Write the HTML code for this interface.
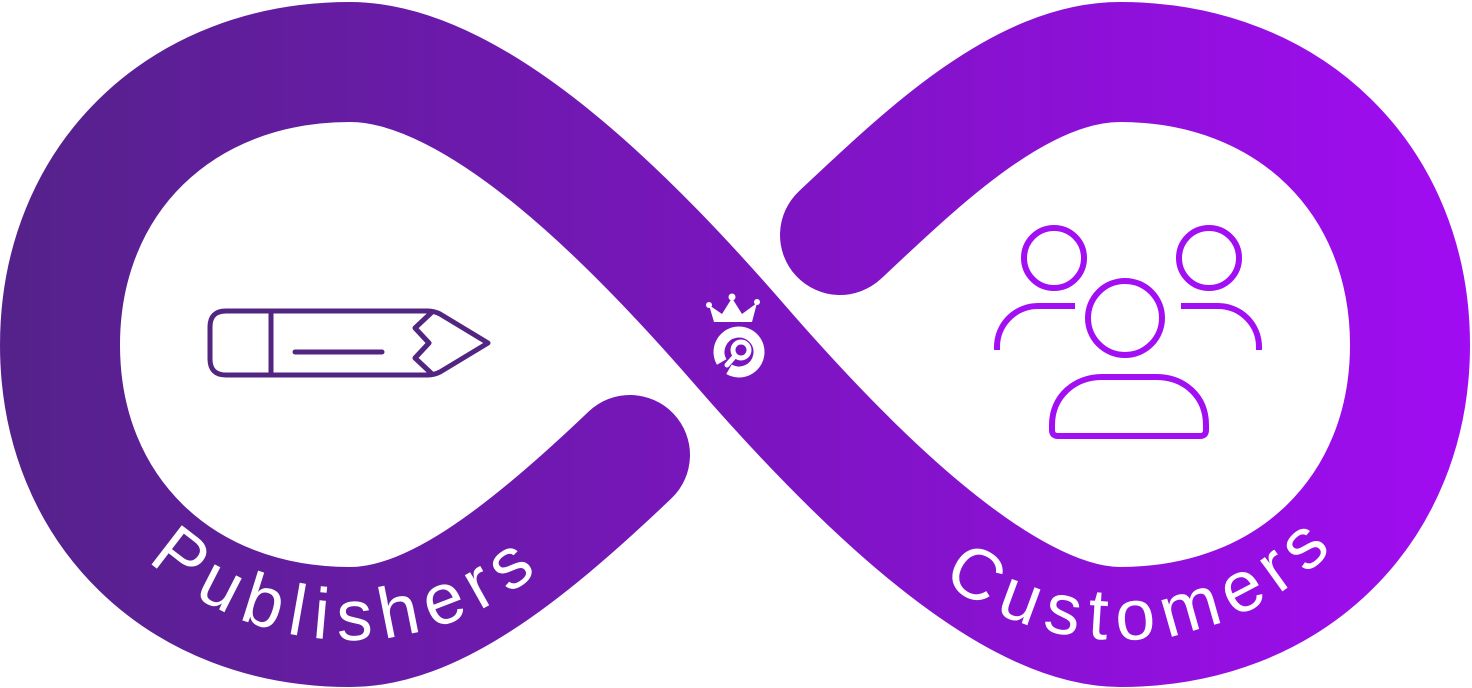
<!DOCTYPE html>
<html><head><meta charset="utf-8"><style>
html,body{margin:0;padding:0;background:#fff;}
svg{display:block;}
</style></head><body>
<svg width="1472" height="688" viewBox="0 0 1472 688" xmlns="http://www.w3.org/2000/svg">
<defs>
<linearGradient id="g" gradientUnits="userSpaceOnUse" x1="0" y1="0" x2="1472" y2="0">
<stop offset="0" stop-color="#54228a"/>
<stop offset="0.5" stop-color="#7a15be"/>
<stop offset="1" stop-color="#a10cf2"/>
</linearGradient>
<path id="tp1" d="M 55 345 A 295 295 0 0 0 645 345"/>
<path id="tp2" d="M 825 345 A 295 295 0 0 0 1415 345"/>
</defs>
<path d="M 630 455 C 520 560 430 627 350 627 C 180 627 60 510 60 345 C 60 180 180 62 350 62 C 480 62 640 230 740 345 C 840 460 1000 627 1120 627 C 1290 627 1410 510 1410 345 C 1410 180 1290 62 1120 62 C 1020 62 920 160 840 235" fill="none" stroke="url(#g)" stroke-width="120" stroke-linecap="round"/>
<g font-family="Liberation Sans, sans-serif" font-size="72" fill="#fff" letter-spacing="10">
<text text-anchor="middle"><textPath href="#tp1" startOffset="49.5%">Publishers</textPath></text>
<text text-anchor="middle"><textPath href="#tp2" startOffset="53%">Customers</textPath></text>
</g>
<!-- pencil -->
<g fill="none" stroke="#512580" stroke-width="5" stroke-linejoin="round" stroke-linecap="round">
<path d="M 428 311 H 226 Q 210 311 210 327 V 359 Q 210 375 226 375 H 428 Q 434 375 440 372 L 488 343 L 440 314 Q 434 311 428 311 Z"/>
<path d="M 271 311 V 375"/>
<path d="M 295 352 H 382"/>
<path d="M 431 313 L 415 328 L 429 343 L 415 358 L 431 373"/>
</g>
<!-- people -->
<g fill="none" stroke="#a20ff2" stroke-width="6" stroke-linecap="round">
<circle cx="1054" cy="258" r="30"/>
<circle cx="1209" cy="258" r="30"/>
<circle cx="1125" cy="318" r="37"/>
<path d="M 1075 306 H 1038 A 41 41 0 0 0 997 347 V 350" stroke-linecap="butt"/>
<path d="M 1181 306 H 1218 A 41 41 0 0 1 1259 347 V 350" stroke-linecap="butt"/>
<path d="M 1052 430 V 425 C 1052 396 1075 377 1102 377 H 1156 C 1184 377 1206 396 1206 425 V 430 Q 1206 436 1200 436 H 1058 Q 1052 436 1052 430 Z"/>
</g>
<!-- center logo -->
<g fill="#fff">
<path d="M 714 322 L 709 305 L 722 314 L 732 298 L 742 314 L 757 303 L 752 322 Z"/>
<circle cx="709" cy="305" r="3"/><circle cx="732" cy="297" r="3.5"/><circle cx="757" cy="302" r="3"/>
<path d="M 721.7 362 A 20 20 0 1 1 729 369.3" fill="none" stroke="#fff" stroke-width="11"/>
<circle cx="741" cy="350" r="8" fill="none" stroke="#fff" stroke-width="5"/>
<path d="M 735 356 L 727 365" stroke="#fff" stroke-width="5" stroke-linecap="round"/>
</g>
</svg>
</body></html>
